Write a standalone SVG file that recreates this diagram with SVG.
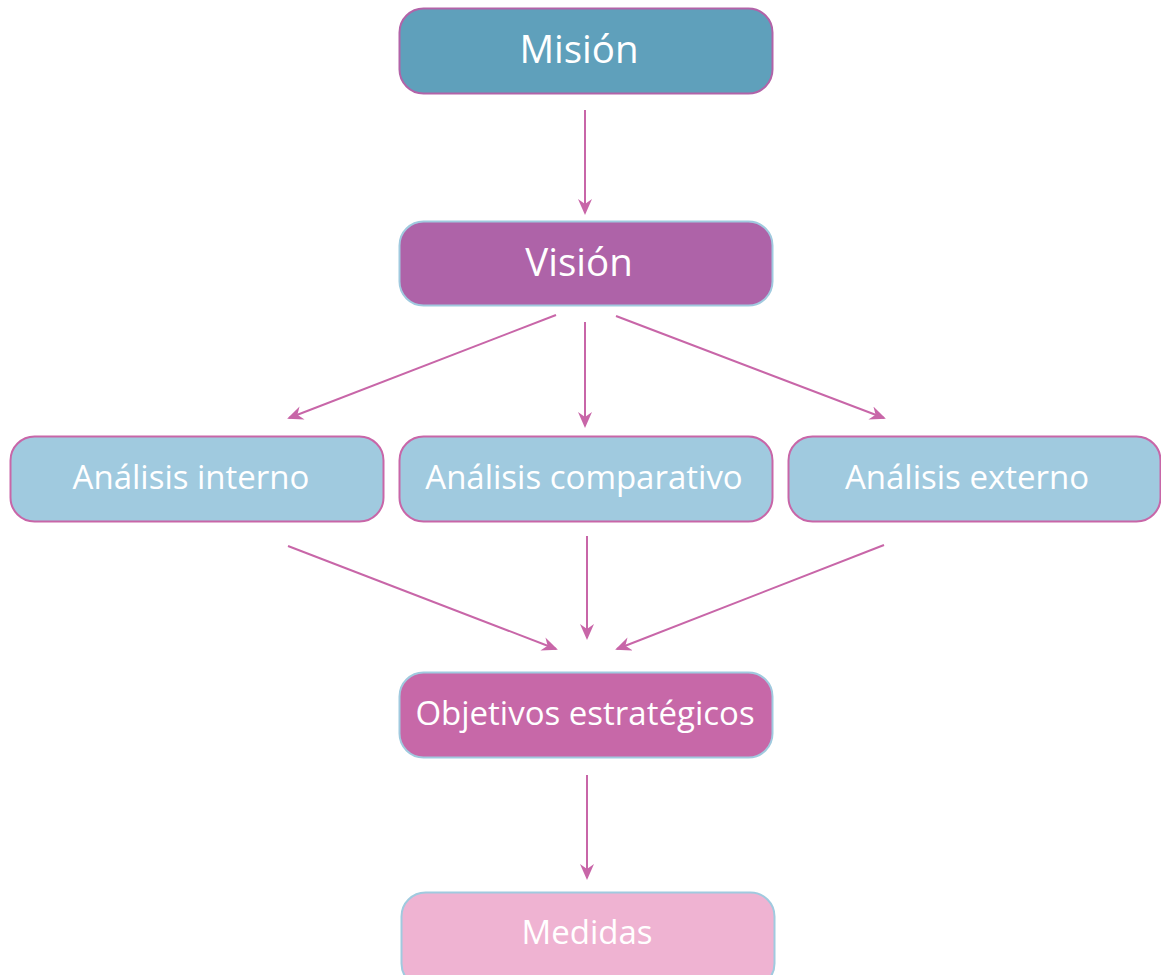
<svg xmlns="http://www.w3.org/2000/svg" width="1161" height="975" viewBox="0 0 1161 975">
<style>
.box{stroke-width:2}
.t{font-family:"Open Sans","Liberation Sans",sans-serif;fill:#ffffff;text-anchor:middle;dominant-baseline:central}
.big{font-size:38.5px}
.mid{font-size:33px}
.con line{stroke:#c866a8;stroke-width:2;fill:none;marker-end:url(#ah)}
</style>
<defs>
<marker id="ah" viewBox="0 0 16 14" refX="14" refY="7" markerWidth="16" markerHeight="14" markerUnits="userSpaceOnUse" orient="auto">
<path d="M0,0 L16,7 L0,14 L5,7 Z" fill="#c866a8"/>
</marker>
</defs>
<rect width="1161" height="975" fill="#ffffff"/>
<g id="mision">
<rect class="box" x="399.5" y="8.5" width="373" height="85" rx="24" fill="#5fa0bb" stroke="#b263a8"/>
<text class="t big" x="579" y="48">Misión</text>
</g>
<g id="vision">
<rect class="box" x="399.5" y="221.5" width="373" height="84" rx="24" fill="#ae63a8" stroke="#a0cadf"/>
<text class="t big" x="579" y="261">Visión</text>
</g>
<g id="interno">
<rect class="box" x="10.5" y="436.5" width="373" height="85" rx="24" fill="#a0cadf" stroke="#c866a8"/>
<text class="t mid" x="191" y="476">Análisis interno</text>
</g>
<g id="comparativo">
<rect class="box" x="399.5" y="436.5" width="373" height="85" rx="24" fill="#a0cadf" stroke="#c866a8"/>
<text class="t mid" x="584" y="476">Análisis comparativo</text>
</g>
<g id="externo">
<rect class="box" x="788.5" y="436.5" width="372" height="85" rx="24" fill="#a0cadf" stroke="#c866a8"/>
<text class="t mid" x="967" y="476">Análisis externo</text>
</g>
<g id="objetivos">
<rect class="box" x="399.5" y="672.5" width="373" height="85" rx="24" fill="#c768a8" stroke="#a0cadf"/>
<text class="t mid" x="585" y="712">Objetivos estratégicos</text>
</g>
<g id="medidas">
<rect class="box" x="401.5" y="892.5" width="373" height="95" rx="24" fill="#efb3d2" stroke="#a0cadf"/>
<text class="t mid" x="587" y="931">Medidas</text>
</g>
<g id="connectors" class="con">
<line x1="585" y1="110" x2="585" y2="213"/>
<line x1="556" y1="315" x2="289" y2="418"/>
<line x1="585" y1="322" x2="585" y2="426"/>
<line x1="616" y1="316" x2="884" y2="418"/>
<line x1="288" y1="546" x2="556" y2="649"/>
<line x1="587" y1="536" x2="587" y2="638"/>
<line x1="884" y1="545" x2="617" y2="649"/>
<line x1="587" y1="775" x2="587" y2="878"/>
</g>
</svg>
